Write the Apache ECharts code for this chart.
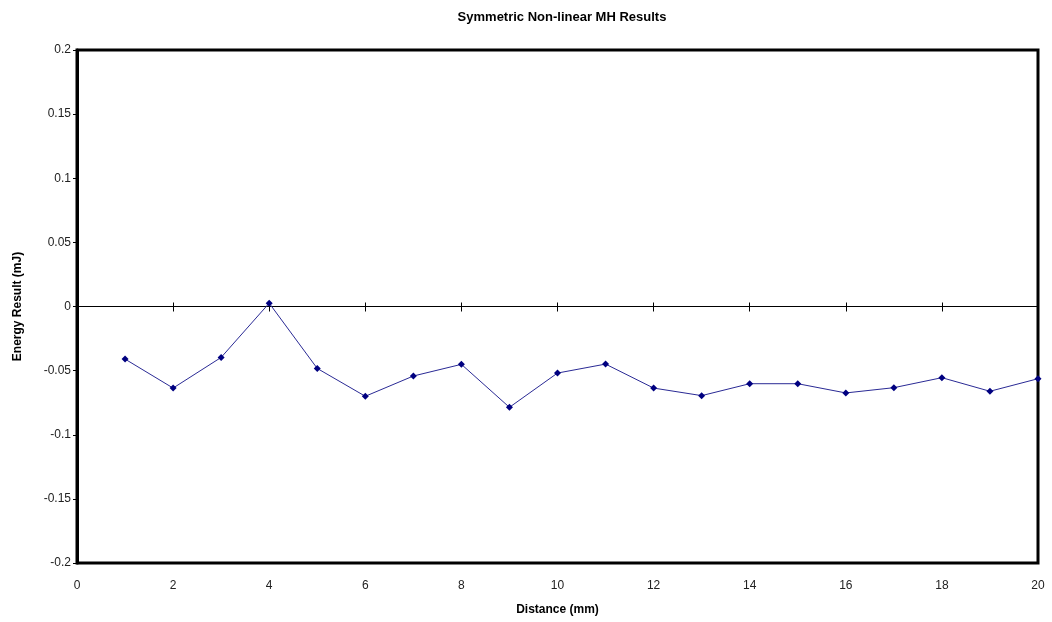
<!DOCTYPE html>
<html>
<head>
<meta charset="utf-8">
<script src="https://cdn.jsdelivr.net/npm/echarts@6/dist/echarts.min.js"></script>
<style>html,body{margin:0;padding:0;background:#fff}#c{width:1052px;height:622px}</style>
</head>
<body>
<div id="c"></div>
<script>
var distances = [1,2,3,4,5,6,7,8,9,10,11,12,13,14,15,16,17,18,19,20];
var energy = [-0.041,-0.0636,-0.0397,0.0026,-0.0483,-0.070,-0.0542,-0.0451,-0.0786,-0.0519,-0.0449,-0.0636,-0.0695,-0.0602,-0.0602,-0.0674,-0.0633,-0.0555,-0.0661,-0.0563];
var titleText = 'Symmetric Non-linear MH Results';
var xName = 'Distance (mm)';
var yName = 'Energy Result (mJ)';

var chart = echarts.init(document.getElementById('c'));
var font = 'Liberation Sans, Arial, sans-serif';
var gridRect = {left:77, right:14, top:50, bottom:59};
chart.setOption({
  animation:false,
  backgroundColor:'#fff',
  title:{text:titleText, left:557, top:6, textAlign:'center',
    textStyle:{fontFamily:font, fontSize:13, fontWeight:'bold', color:'#000'}},
  grid:[
    Object.assign({show:true, borderColor:'#000', borderWidth:3, backgroundColor:'#fff'}, gridRect),
    Object.assign({show:false}, gridRect)
  ],
  xAxis:[
    {gridIndex:0, type:'value', min:0, max:20, interval:2, position:'bottom',
      name:xName, nameLocation:'middle', nameGap:41,
      nameTextStyle:{fontFamily:font, fontSize:12, fontWeight:'bold', color:'#000'},
      axisLine:{show:false, onZero:false}, axisTick:{show:false},
      axisLabel:{fontFamily:font, fontSize:12, color:'#222', margin:17},
      splitLine:{show:false}},
    {gridIndex:0, type:'value', min:0, max:20, interval:2, position:'top',
      axisLine:{show:true, onZero:true, lineStyle:{color:'#000', width:1}},
      axisTick:{show:true, inside:false, length:4, lineStyle:{color:'#000', width:1}},
      axisLabel:{show:false}, splitLine:{show:false}},
    {gridIndex:1, type:'value', min:0, max:20, interval:2, position:'bottom',
      axisLine:{show:true, onZero:true, lineStyle:{color:'#000', width:1}},
      axisTick:{show:true, inside:false, length:5, lineStyle:{color:'#000', width:1}},
      axisLabel:{show:false}, splitLine:{show:false}}
  ],
  yAxis:[
    {gridIndex:0, type:'value', min:-0.2, max:0.2, interval:0.05,
      name:yName, nameLocation:'middle', nameGap:53, nameRotate:90,
      nameTextStyle:{fontFamily:font, fontSize:12, fontWeight:'bold', color:'#000'},
      axisLine:{show:true, onZero:false, lineStyle:{color:'#000', width:3}},
      axisTick:{show:true, length:4, lineStyle:{color:'#000', width:1}},
      axisLabel:{fontFamily:font, fontSize:12, color:'#222', margin:6},
      splitLine:{show:false}},
    {gridIndex:1, type:'value', min:-0.2, max:0.2, interval:0.05, show:false}
  ],
  series:[{
    type:'line', xAxisIndex:0, yAxisIndex:0, z:5,
    data:distances.map(function(d,i){return [d, energy[i]];}),
    symbol:'diamond', symbolSize:7, showSymbol:true,
    itemStyle:{color:'#000080'},
    lineStyle:{color:'#2a2a95', width:1}
  }]
});
</script>
</body>
</html>
